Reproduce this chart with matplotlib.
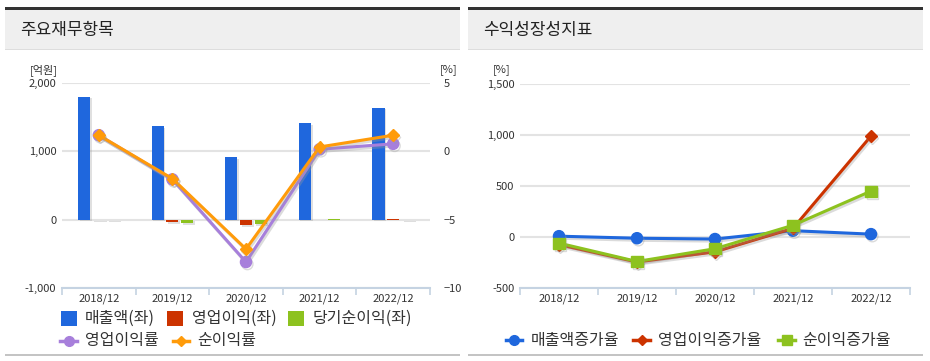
import matplotlib.pyplot as plt
from matplotlib.patches import Rectangle
from matplotlib.lines import Line2D
import matplotlib.patheffects as pe

plt.rcParams['font.family'] = ['Noto Sans CJK KR', 'DejaVu Sans']

# data
years = ['2018/12', '2019/12', '2020/12', '2021/12', '2022/12']
sales = [1800, 1365, 915, 1410, 1640]
op_profit = [-8, -40, -85, 2, 10]
net_profit = [-8, -50, -70, 4, -6]
op_margin = [1.18, -2.05, -8.1, 0.15, 0.55]
net_margin = [1.18, -2.0, -7.15, 0.32, 1.18]

sales_growth = [8, -12, -20, 62, 28]
op_growth = [-75, -245, -145, 85, 990]
net_growth = [-60, -240, -115, 115, 450]

W, H = 930, 361
fig = plt.figure(figsize=(W / 100, H / 100), dpi=100)


def box(x0, y0, x1, y1):
    return [x0 / W, 1 - y1 / H, (x1 - x0) / W, (y1 - y0) / H]


def rect(x0, y0, x1, y1, color):
    fig.patches.append(Rectangle((x0 / W, 1 - y1 / H), (x1 - x0) / W, (y1 - y0) / H,
                                 transform=fig.transFigure, color=color, lw=0, zorder=0))


# panel frames
for x0, x1, title in [(5, 460, '주요재무항목'), (468, 923, '수익성장성지표')]:
    rect(x0, 9, x1, 49, '#efefef')
    rect(x0, 7, x1, 9.5, '#333333')
    rect(x0, 48.5, x1, 49.5, '#dddddd')
    rect(x0, 353.5, x1, 356, '#c4c4c4')
    fig.text((x0 + 15) / W, 1 - 30 / H, title, fontsize=12.2, color='#222222', va='center')

grid_c = '#e3e3e3'
axis_c = '#c5d3e2'
txt_c = '#333333'
x = list(range(len(years)))


def style_axes(ax):
    for s in ax.spines.values():
        s.set_visible(False)
    ax.spines['bottom'].set_visible(True)
    ax.spines['bottom'].set_color(axis_c)
    ax.spines['bottom'].set_linewidth(1.5)
    ax.set_xlim(-0.5, 4.5)
    ax.set_xticks([i - 0.5 for i in range(6)], minor=False)
    ax.set_xticklabels([])
    ax.tick_params(axis='x', length=5, color=axis_c, width=1.2)
    ax.set_xticks(x, minor=True)
    ax.set_xticklabels(years, minor=True)
    ax.tick_params(axis='x', which='minor', length=0, pad=4, labelsize=8, labelcolor=txt_c)
    ax.tick_params(axis='y', length=0, labelsize=8, labelcolor=txt_c, pad=4)
    ax.grid(axis='y', color=grid_c, lw=1.5)
    ax.set_axisbelow(True)


shadow_bar = [pe.withSimplePatchShadow(offset=(1.2, -1.2), shadow_rgbFace='#999999', alpha=0.3)]
shadow_line = [pe.SimpleLineShadow(offset=(1, -1.5), shadow_color='#999999', alpha=0.35), pe.Normal()]

# left chart
ax1 = fig.add_axes(box(62, 83, 430, 288))
style_axes(ax1)
bw = 0.165
ax1.bar([i - 0.2 for i in x], sales, bw, color='#1f67dd', path_effects=shadow_bar, zorder=2)
ax1.bar(x, op_profit, bw, color='#cc3300', path_effects=shadow_bar, zorder=2)
ax1.bar([i + 0.2 for i in x], net_profit, bw, color='#8dc21f', path_effects=shadow_bar, zorder=2)
ax1.set_ylim(-1000, 2000)
ax1.set_yticks([-1000, 0, 1000, 2000])
ax1.set_yticklabels(['-1,000', '0', '1,000', '2,000'])

ax1r = ax1.twinx()
for s in ax1r.spines.values():
    s.set_visible(False)
ax1r.set_ylim(-10, 5)
ax1r.set_yticks([-10, -5, 0, 5])
ax1r.tick_params(axis='y', length=0, labelsize=8, labelcolor=txt_c, pad=10)
ax1r.plot(x, op_margin, color='#a77fdb', lw=2.2, marker='o', ms=8, path_effects=shadow_line, zorder=3)
ax1r.plot(x, net_margin, color='#ff9b0a', lw=2.2, marker='D', ms=6, path_effects=shadow_line, zorder=4)
fig.text(44 / W, 1 - 70 / H, '[억원]', fontsize=8, color=txt_c, ha='center', va='center')
fig.text(449 / W, 1 - 70 / H, '[%]', fontsize=8, color=txt_c, ha='center', va='center')

# right chart
ax2 = fig.add_axes(box(520, 84, 910, 288))
style_axes(ax2)
ax2.set_ylim(-500, 1500)
ax2.set_yticks([-500, 0, 500, 1000, 1500])
ax2.set_yticklabels(['-500', '0', '500', '1,000', '1,500'])
ax2.plot(x, op_growth, color='#cc3300', lw=2.2, marker='D', ms=6, path_effects=shadow_line, zorder=3)
ax2.plot(x, net_growth, color='#8dc21f', lw=2.2, marker='s', ms=8, path_effects=shadow_line, zorder=4)
ax2.plot(x, sales_growth, color='#1f67dd', lw=2.2, marker='o', ms=8, path_effects=shadow_line, zorder=2)
fig.text(502 / W, 1 - 70 / H, '[%]', fontsize=8, color=txt_c, ha='center', va='center')


# legends
def sq(x0, x1, tx, yp, color, label):
    fig.patches.append(Rectangle((x0 / W, 1 - (yp + 7.5) / H), (x1 - x0) / W, 15 / H,
                                 transform=fig.transFigure, color=color, lw=0))
    fig.text(tx / W, 1 - yp / H, label, fontsize=11.5, color=txt_c, va='center')


def ln(x0, x1, tx, yp, color, marker, ms, label):
    fig.lines.append(Line2D([x0 / W, x1 / W], [1 - yp / H] * 2, transform=fig.transFigure,
                            color=color, lw=2.5))
    fig.lines.append(Line2D([(x0 + x1) / 2 / W], [1 - yp / H], transform=fig.transFigure,
                            color=color, marker=marker, ms=ms, lw=0))
    fig.text(tx / W, 1 - yp / H, label, fontsize=11.5, color=txt_c, va='center')


sq(61, 77, 85, 318, '#1f67dd', '매출액(좌)')
sq(167, 183, 192, 318, '#cc3300', '영업이익(좌)')
sq(288, 304, 313, 318, '#8dc21f', '당기순이익(좌)')
ln(60, 77, 85, 341, '#a77fdb', 'o', 7, '영업이익률')
ln(173, 189, 197, 341, '#ff9b0a', 'D', 5, '순이익률')

ln(506, 522, 531, 340, '#1f67dd', 'o', 7, '매출액증가율')
ln(633, 650, 658, 340, '#cc3300', 'D', 5, '영업이익증가율')
ln(778, 795, 802, 340, '#8dc21f', 's', 7, '순이익증가율')

fig.savefig('out.png', dpi=100)
